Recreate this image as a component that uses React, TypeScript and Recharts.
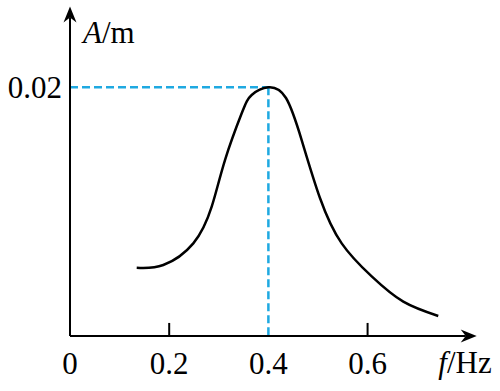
import React from 'react';
import { LineChart, Line, XAxis, YAxis, ReferenceLine, Label } from 'recharts';

const freqHz = [0.1345, 0.1881, 0.2486, 0.2857, 0.3125, 0.3462, 0.3663, 0.4, 0.4355, 0.4671, 0.504, 0.5478, 0.6083, 0.672, 0.7425];
const ampM = [0.00549, 0.00571, 0.00745, 0.0104, 0.01415, 0.01791, 0.01938, 0.02, 0.01914, 0.01576, 0.0111, 0.00745, 0.00479, 0.00276, 0.00161];
const xTicks = [0, 0.2, 0.4, 0.6];
const yTicks = [0.02];
const xMarkTicks = [0.2, 0.6];
const peakF = 0.4;
const peakA = 0.02;
const xMax = 0.82;
const yMax = 0.0265;

const data = freqHz.map((f, i) => ({ f, a: ampM[i] }));

const FONT = '"Liberation Serif", "Times New Roman", serif';

const ArrowLine = (props: any) => {
  const { x1, y1, x2, y2 } = props;
  const dx = x2 - x1;
  const dy = y2 - y1;
  const len = Math.sqrt(dx * dx + dy * dy) || 1;
  const ux = dx / len;
  const uy = dy / len;
  const px = -uy;
  const py = ux;
  const L = 16;
  const W = 6.5;
  const N = 11;
  const bx = x2 - ux * L;
  const by = y2 - uy * L;
  const nx = x2 - ux * N;
  const ny = y2 - uy * N;
  const pts = `${x2},${y2} ${bx + px * W},${by + py * W} ${nx},${ny} ${bx - px * W},${by - py * W}`;
  return (
    <g>
      <line x1={x1} y1={y1} x2={nx} y2={ny} stroke="#000" strokeWidth={2} />
      <polygon points={pts} fill="#000" />
    </g>
  );
};

const XLabel = (props: any) => {
  const vb = props.viewBox;
  return (
    <text x={vb.x + vb.width + 15} y={vb.y + 37} textAnchor="end" fontFamily={FONT} fontSize={31} fill="#000">
      <tspan fontStyle="italic">f</tspan>
      <tspan>/Hz</tspan>
    </text>
  );
};

const YLabel = (props: any) => {
  const vb = props.viewBox;
  return (
    <text x={vb.x + vb.width + 13} y={vb.y + 36.5} textAnchor="start" fontFamily={FONT} fontSize={31} fill="#000">
      <tspan fontStyle="italic">A</tspan>
      <tspan>/m</tspan>
    </text>
  );
};

export default function App() {
  return (
    <div style={{ width: 500, height: 391, background: '#fff' }}>
      <style>{`body{margin:0}`}</style>
      <LineChart width={500} height={391} data={data} margin={{ top: 6.5, right: 23.3, bottom: 15, left: 8 }}>
        <XAxis
          dataKey="f"
          type="number"
          domain={[0, xMax]}
          ticks={xTicks}
          axisLine={false}
          tickLine={false}
          tickSize={6}
          tickMargin={10}
          height={40}
          interval={0}
          tick={{ fontFamily: FONT, fontSize: 31, fill: '#000' }}
          tickFormatter={(v: number) => (v === 0 ? '0' : String(v))}
          allowDataOverflow
        >
          <Label content={<XLabel />} />
        </XAxis>
        <YAxis
          dataKey="a"
          type="number"
          domain={[0, yMax]}
          ticks={yTicks}
          axisLine={false}
          tickLine={false}
          tickSize={0}
          tickMargin={8}
          width={62}
          interval={0}
          tick={{ fontFamily: FONT, fontSize: 31, fill: '#000' }}
          allowDataOverflow
        >
          <Label content={<YLabel />} />
        </YAxis>
        <ReferenceLine
          segment={[{ x: 0, y: peakA }, { x: peakF, y: peakA }]}
          stroke="#1fa9e1"
          strokeWidth={2.5}
          strokeDasharray="8 4"
          ifOverflow="visible"
        />
        <ReferenceLine
          segment={[{ x: peakF, y: peakA }, { x: peakF, y: 0 }]}
          stroke="#1fa9e1"
          strokeWidth={2.5}
          strokeDasharray="8 4"
          ifOverflow="visible"
        />
        {xMarkTicks.map((t) => (
          <ReferenceLine
            key={t}
            segment={[{ x: t, y: 0 }, { x: t, y: 0.00105 }]}
            stroke="#000"
            strokeWidth={2}
            ifOverflow="visible"
          />
        ))}
        <ReferenceLine segment={[{ x: 0, y: 0 }, { x: xMax, y: 0 }]} shape={ArrowLine} ifOverflow="visible" />
        <ReferenceLine segment={[{ x: 0, y: 0 }, { x: 0, y: yMax }]} shape={ArrowLine} ifOverflow="visible" />
        <Line
          type="natural"
          dataKey="a"
          stroke="#000"
          strokeWidth={2.5}
          dot={false}
          activeDot={false}
          isAnimationActive={false}
        />
      </LineChart>
    </div>
  );
}
